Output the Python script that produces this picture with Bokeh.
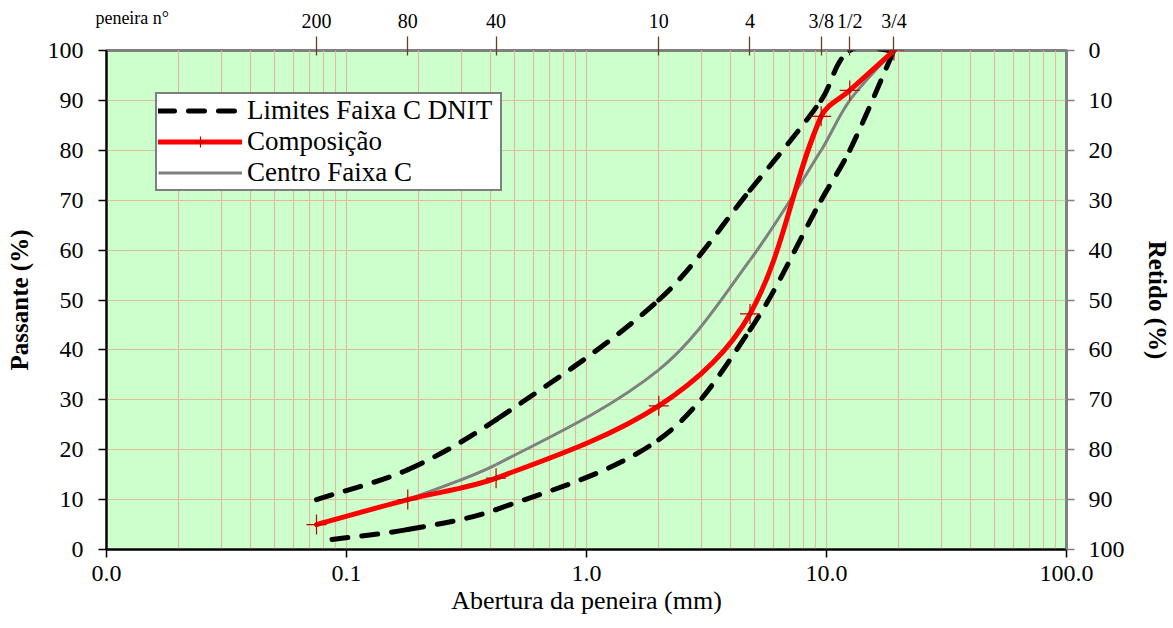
import math
from bokeh.plotting import figure
from bokeh.models import (LogAxis, LinearAxis, Range1d, FixedTicker, Legend, LegendItem,
                          ColumnDataSource, NumeralTickFormatter)
from bokeh.embed import file_html
from bokeh.resources import INLINE

# ---- data ----
sieve_sizes = [0.075, 0.18, 0.42, 2.0, 4.8, 9.5, 12.5, 19.1]
sieve_names = ["200", "80", "40", "10", "4", "3/8", "1/2", "3/4"]
caption_text = "peneira n°"
caption_pos = 0.0128   # where the caption sits on the top scale

comp_x = [0.075, 0.18, 0.42, 2.0, 4.8, 9.5, 12.5, 19.1]
comp_y = [5, 10, 14.3, 28.8, 47.2, 86.8, 92, 100]

upper_x = [0.075, 0.18, 0.42, 2.0, 4.8, 9.5, 12.5, 19.1]
upper_y = [10, 16, 26, 50, 72, 90, 100, 100]

lower_x = [0.087, 0.18, 0.42, 2.0, 4.8, 9.5, 12.5, 19.1]
lower_y = [2, 4, 8, 22, 44, 70, 80, 100]

center_x = [0.18, 0.42, 2.0, 4.8, 9.5, 12.5, 19.1]
center_y = [10, 17, 36, 58, 80, 90, 100]

x_ticks = [0.01, 0.1, 1, 10, 100]
y_ticks = [0, 10, 20, 30, 40, 50, 60, 70, 80, 90, 100]

FONT = "Liberation Serif"
GRID = "#DDBE9E"
FRAME_W, FRAME_H = 960, 499   # used only for smoothing aspect


def smooth_source(xs, ys):
    """Smoothed line drawn as cubic Bezier segments through the data points
    (tangent-based control points computed in screen-aspect log-x space)."""
    sx = FRAME_W / 4.0
    sy = FRAME_H / 100.0
    px = [math.log10(v) * sx for v in xs]
    py = [v * sy for v in ys]
    n = len(xs)
    tans = []
    for i in range(n):
        a = max(i - 1, 0)
        b = min(i + 1, n - 1)
        tx, ty = px[b] - px[a], py[b] - py[a]
        L = math.hypot(tx, ty) or 1.0
        tans.append((tx / L, ty / L))
    d = dict(x0=[], y0=[], x1=[], y1=[], cx0=[], cy0=[], cx1=[], cy1=[])
    for i in range(n - 1):
        seg = math.hypot(px[i + 1] - px[i], py[i + 1] - py[i]) / 3.0
        c0x = px[i] + tans[i][0] * seg
        c0y = py[i] + tans[i][1] * seg
        c1x = px[i + 1] - tans[i + 1][0] * seg
        c1y = py[i + 1] - tans[i + 1][1] * seg
        d["x0"].append(xs[i]); d["y0"].append(ys[i])
        d["x1"].append(xs[i + 1]); d["y1"].append(ys[i + 1])
        d["cx0"].append(10 ** (c0x / sx)); d["cy0"].append(c0y / sy)
        d["cx1"].append(10 ** (c1x / sx)); d["cy1"].append(c1y / sy)
    return ColumnDataSource(d)


p = figure(width=1173, height=628, x_axis_type="log",
           x_range=Range1d(0.01, 100), y_range=Range1d(0, 100),
           output_backend="svg", toolbar_location=None,
           background_fill_color="#CCFFCC", border_fill_color="white",
           min_border_left=106, min_border_right=107, min_border_top=50, min_border_bottom=79)
p.extra_y_ranges = {"ret": Range1d(100, 0)}

p.outline_line_color = "#808080"
p.outline_line_width = 3

# grids
minor_vals = []
for e in range(-2, 2):
    for k in range(1, 10):
        minor_vals.append(k * 10 ** e)
minor_vals.append(100)
p.xgrid.ticker = FixedTicker(ticks=minor_vals)
p.xgrid.grid_line_color = GRID
p.xgrid.grid_line_width = 1.2
p.ygrid.ticker = FixedTicker(ticks=y_ticks)
p.ygrid.grid_line_color = GRID
p.ygrid.grid_line_width = 1.2

# bottom axis
xa = p.xaxis[0]
xa.ticker = FixedTicker(ticks=x_ticks)
xa.formatter = NumeralTickFormatter(format="0.0")
xa.axis_label = "Abertura da peneira (mm)"
xa.axis_label_text_font = FONT
xa.axis_label_text_font_style = "normal"
xa.axis_label_text_font_size = "26px"
xa.axis_label_text_color = "black"
xa.axis_label_standoff = 2
xa.major_label_text_font = FONT
xa.major_label_text_font_size = "24px"
xa.major_label_text_color = "black"
xa.major_label_standoff = 8
xa.axis_line_color = "black"
xa.axis_line_width = 2
xa.major_tick_line_color = "black"
xa.major_tick_line_width = 1.5
xa.major_tick_out = 8
xa.major_tick_in = 0
xa.minor_tick_line_color = None

# left axis
ya = p.yaxis[0]
ya.ticker = FixedTicker(ticks=y_ticks)
ya.axis_label = "Passante (%)"
ya.axis_label_text_font = FONT
ya.axis_label_text_font_style = "bold"
ya.axis_label_text_font_size = "25px"
ya.axis_label_text_color = "black"
ya.axis_label_standoff = 12
ya.major_label_text_font = FONT
ya.major_label_text_font_size = "24px"
ya.major_label_text_color = "black"
ya.major_label_standoff = 15
ya.axis_line_color = "black"
ya.axis_line_width = 2
ya.major_tick_line_color = "black"
ya.major_tick_line_width = 1.5
ya.major_tick_out = 8
ya.major_tick_in = 0
ya.minor_tick_line_color = None

# right axis
ra = LinearAxis(y_range_name="ret", ticker=FixedTicker(ticks=y_ticks))
ra.axis_label = "Retido (%)"
ra.axis_label_text_font = FONT
ra.axis_label_text_font_style = "bold"
ra.axis_label_text_font_size = "25px"
ra.axis_label_text_color = "black"
ra.axis_label_standoff = 16
ra.major_label_text_font = FONT
ra.major_label_text_font_size = "24px"
ra.major_label_text_color = "black"
ra.major_label_standoff = 14
ra.axis_line_color = "#808080"
ra.axis_line_width = 2
ra.major_tick_line_color = "#808080"
ra.major_tick_line_width = 1.5
ra.major_tick_out = 8
ra.major_tick_in = 0
ra.minor_tick_line_color = None
p.add_layout(ra, "right")

# top axis: sieve numbers with tick marks (closest to the frame)
ta = LogAxis(ticker=FixedTicker(ticks=sieve_sizes),
             major_label_overrides={s: n for s, n in zip(sieve_sizes, sieve_names)})
ta.axis_line_color = None
ta.major_tick_line_color = "#6E3B1C"
ta.major_tick_line_width = 1.3
ta.major_tick_out = 14
ta.major_tick_in = 5
ta.minor_tick_line_color = None
ta.major_label_text_font = FONT
ta.major_label_text_font_size = "20px"
ta.major_label_text_color = "black"
ta.major_label_standoff = 5
p.add_layout(ta, "above")

# caption on the same row as the sieve numbers (outer axis pulled back in)
tc = LogAxis(ticker=FixedTicker(ticks=[caption_pos]),
             major_label_overrides={caption_pos: caption_text})
tc.axis_line_color = None
tc.major_tick_line_color = None
tc.major_tick_out = 0
tc.major_tick_in = 0
tc.minor_tick_line_color = None
tc.major_label_text_font = FONT
tc.major_label_text_font_size = "18px"
tc.major_label_text_color = "black"
tc.major_label_standoff = -21
p.add_layout(tc, "above")

# curves
DASH = "16 14"
upper_r = p.bezier(x0="x0", y0="y0", x1="x1", y1="y1", cx0="cx0", cy0="cy0", cx1="cx1", cy1="cy1",
                   source=smooth_source(upper_x, upper_y), line_color="black", line_width=5,
                   line_dash=DASH, line_cap="round")
lower_r = p.bezier(x0="x0", y0="y0", x1="x1", y1="y1", cx0="cx0", cy0="cy0", cx1="cx1", cy1="cy1",
                   source=smooth_source(lower_x, lower_y), line_color="black", line_width=5,
                   line_dash=DASH, line_cap="round")
center_r = p.bezier(x0="x0", y0="y0", x1="x1", y1="y1", cx0="cx0", cy0="cy0", cx1="cx1", cy1="cy1",
                    source=smooth_source(center_x, center_y), line_color="#808080", line_width=3)
comp_r = p.bezier(x0="x0", y0="y0", x1="x1", y1="y1", cx0="cx0", cy0="cy0", cx1="cx1", cy1="cy1",
                  source=smooth_source(comp_x, comp_y), line_color="#FF0000", line_width=5,
                  line_cap="round")
comp_m = p.scatter(comp_x, comp_y, marker="cross", size=20, line_color="#C00000", line_width=1.2)

legend = Legend(items=[
    LegendItem(label="Limites Faixa C DNIT", renderers=[upper_r]),
    LegendItem(label="Composição", renderers=[comp_r, comp_m]),
    LegendItem(label="Centro Faixa C", renderers=[center_r]),
], location=(49, 358))
legend.background_fill_color = "white"
legend.background_fill_alpha = 1
legend.border_line_color = "black"
legend.border_line_width = 2
legend.label_text_font = FONT
legend.label_text_font_size = "27px"
legend.label_text_color = "black"
legend.padding = 1
legend.spacing = 0
legend.margin = 0
legend.glyph_width = 84
legend.glyph_height = 27
legend.label_height = 27
legend.label_width = 252
legend.label_standoff = 5
p.add_layout(legend, "center")

open("out.html", "w").write(file_html(p, INLINE))
